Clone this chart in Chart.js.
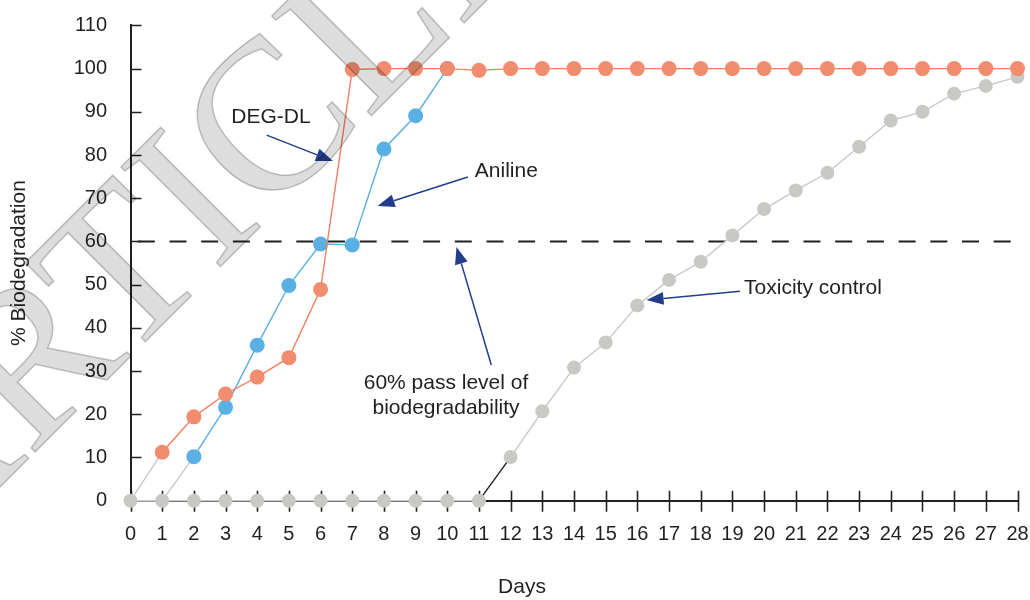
<!DOCTYPE html>
<html>
<head>
<meta charset="utf-8">
<title>Biodegradation over 28 days</title>
<script src="https://cdn.jsdelivr.net/npm/chart.js@4.4.1/dist/chart.umd.min.js"></script>
<style>
  html, body { margin: 0; padding: 0; background: #ffffff; }
  #wrap { width: 1030px; height: 600px; position: relative; }
</style>
</head>
<body>
<div id="wrap"><canvas id="chart"></canvas></div>
<script>
// ---- data -------------------------------------------------------------
const days = [0, 1, 2, 3, 4, 5, 6, 7, 8, 9, 10, 11, 12, 13, 14, 15, 16, 17, 18, 19, 20, 21, 22, 23, 24, 25, 26, 27, 28];

// % biodegradation per day
const degDL = [0, 11.2, 19.4, 24.7, 28.6, 33.1, 48.9, 99.8, 100, 100, 100, 99.6, 100, 100, 100, 100, 100, 100, 100, 100, 100, 100, 100, 100, 100, 100, 100, 100, 100];
const aniline = [0, 0, 10.2, 21.6, 36.0, 49.8, 59.4, 59.2, 81.4, 89.1, 100];
const toxicityControl = [0, 0, 0, 0, 0, 0, 0, 0, 0, 0, 0, 0, 10.1, 20.7, 30.8, 36.6, 45.2, 51.1, 55.3, 61.4, 67.5, 71.8, 75.9, 81.9, 88.0, 90.0, 94.2, 96.0, 98.1];

// 60 % pass level, drawn across the whole test period
const passLevelDays = [0, 28];
const passLevel = [60, 60];

const yMin = 0, yMax = 110, yStep = 10;

// ---- styling ------------------------------------------------------------
const INK = '#231f20';
const NAVY = '#233c8c';
const ORANGE_LINE = '#f07f5f', ORANGE_DOT = '#f28c6e';
const BLUE_LINE = '#5aafe0', BLUE_DOT = '#5ab0e2';
const GREY_LINE = '#c8c8c8', GREY_DOT = '#c8c8c4';
const FONT = "'Liberation Sans', Arial, Helvetica, sans-serif";

Chart.defaults.font.family = FONT;
Chart.defaults.color = INK;

const toPoints = (xs, ys) => ys.map((v, i) => ({ x: xs[i], y: v }));
const hideZero = ctx => (ctx.raw && ctx.raw.y === 0 ? 0 : 7.5);

// annotation callouts, placed in data units (day, %)
const callouts = [
  { lines: ['DEG-DL'], at: [4.435, 88.7], align: 'center', from: [4.30, 84.6], to: [6.39, 78.6] },
  { lines: ['Aniline'], at: [10.87, 76.2], align: 'left', from: [10.65, 74.9], to: [7.80, 68.2] },
  { lines: ['60% pass level of', 'biodegradability'], at: [9.96, 27.2], align: 'center', from: [11.39, 31.4], to: [10.29, 58.7] },
  { lines: ['Toxicity control'], at: [19.37, 49.2], align: 'left', from: [19.24, 48.5], to: [16.29, 46.45] }
];

// tick marks: x ticks cross the axis, y ticks point into the plot
const tickMarks = {
  id: 'tickMarks',
  beforeDatasetsDraw(chart) {
    const { ctx, scales: { x, y }, chartArea } = chart;
    ctx.save();
    ctx.strokeStyle = INK;
    ctx.lineWidth = 1.6;
    ctx.beginPath();
    x.ticks.forEach(t => {
      const px = Math.round(x.getPixelForValue(t.value)) + 0.5;
      ctx.moveTo(px, chartArea.bottom - 10);
      ctx.lineTo(px, chartArea.bottom + 11);
    });
    y.ticks.forEach(t => {
      if (t.value === 0) return;
      const py = Math.round(y.getPixelForValue(t.value)) + 0.5;
      ctx.moveTo(chartArea.left, py);
      ctx.lineTo(chartArea.left + 11, py);
    });
    ctx.stroke();
    ctx.restore();
  }
};

function arrow(ctx, x1, y1, x2, y2) {
  const ang = Math.atan2(y2 - y1, x2 - x1);
  const len = 17, half = 6.5;
  const bx = x2 - len * Math.cos(ang), by = y2 - len * Math.sin(ang);
  ctx.beginPath();
  ctx.moveTo(x1, y1);
  ctx.lineTo(bx, by);
  ctx.stroke();
  ctx.beginPath();
  ctx.moveTo(x2, y2);
  ctx.lineTo(bx + half * Math.sin(ang), by - half * Math.cos(ang));
  ctx.lineTo(bx - half * Math.sin(ang), by + half * Math.cos(ang));
  ctx.closePath();
  ctx.fill();
}

const callout = {
  id: 'callout',
  afterDatasetsDraw(chart) {
    const { ctx, scales: { x, y } } = chart;
    ctx.save();
    ctx.strokeStyle = NAVY;
    ctx.fillStyle = NAVY;
    ctx.lineWidth = 1.5;
    callouts.forEach(c => {
      arrow(ctx, x.getPixelForValue(c.from[0]), y.getPixelForValue(c.from[1]),
                 x.getPixelForValue(c.to[0]), y.getPixelForValue(c.to[1]));
    });
    ctx.fillStyle = INK;
    ctx.font = '21px ' + FONT;
    ctx.textBaseline = 'middle';
    callouts.forEach(c => {
      ctx.textAlign = c.align;
      const px = x.getPixelForValue(c.at[0]);
      const py = y.getPixelForValue(c.at[1]);
      c.lines.forEach((s, i) => ctx.fillText(s, px, py + i * 25));
    });
    ctx.restore();
  }
};

// faint diagonal "ARTICLE IN PRESS" stamp across the upper left
const stamp = {
  id: 'stamp',
  afterDraw(chart) {
    const { ctx } = chart;
    ctx.save();
    ctx.globalCompositeOperation = 'multiply';
    ctx.translate(-80, 567);
    ctx.rotate(-Math.PI / 4);
    ctx.font = "215px 'Liberation Serif', 'DejaVu Serif', serif";
    ctx.textBaseline = 'alphabetic';
    ctx.fillStyle = '#dddddd';
    ctx.fillText('ARTICLE IN PRESS', 0, 0);
    ctx.strokeStyle = '#c9c9c9';
    ctx.lineWidth = 1.5;
    ctx.strokeText('ARTICLE IN PRESS', 0, 0);
    ctx.restore();
  }
};

new Chart(document.getElementById('chart'), {
  type: 'line',
  data: {
    datasets: [
      {
        label: 'DEG-DL',
        data: toPoints(days, degDL),
        borderColor: ORANGE_LINE,
        borderWidth: 1.4,
        pointBackgroundColor: ORANGE_DOT,
        pointBorderWidth: 0,
        pointRadius: hideZero,
        pointHoverRadius: hideZero,
        segment: { borderColor: s => (s.p0.parsed.y === 0 ? GREY_LINE : undefined) },
        clip: false
      },
      {
        label: 'Aniline',
        data: toPoints(days, aniline),
        borderColor: BLUE_LINE,
        borderWidth: 1.4,
        pointBackgroundColor: BLUE_DOT,
        pointBorderWidth: 0,
        pointRadius: hideZero,
        pointHoverRadius: hideZero,
        segment: { borderColor: s => (s.p0.parsed.y === 0 ? GREY_LINE : undefined) },
        clip: false
      },
      {
        label: 'Toxicity control',
        data: toPoints(days, toxicityControl),
        borderColor: GREY_LINE,
        borderWidth: 1.4,
        pointBackgroundColor: GREY_DOT,
        pointBorderWidth: 0,
        pointRadius: 7,
        pointHoverRadius: 7,
        segment: { borderColor: s => (s.p0.parsed.y === 0 && s.p1.parsed.y > 0 ? INK : undefined) },
        clip: false
      },
      {
        label: '60% pass level',
        data: toPoints(passLevelDays, passLevel),
        borderColor: INK,
        borderWidth: 2,
        borderDash: [17, 14.7],
        borderDashOffset: 24.4,
        pointRadius: 0,
        pointHoverRadius: 0,
        clip: false
      }
    ]
  },
  options: {
    responsive: true,
    maintainAspectRatio: false,
    animation: false,
    devicePixelRatio: 1,
    events: [],
    layout: { padding: { left: 14, right: 0, top: 25.4, bottom: 0 } },
    plugins: {
      legend: { display: false },
      tooltip: { enabled: false },
      title: {
        display: true,
        text: 'Days',
        position: 'bottom',
        color: INK,
        font: { size: 21, weight: 'normal', lineHeight: 1.2 },
        padding: { top: 0, bottom: 0 }
      }
    },
    scales: {
      x: {
        type: 'linear',
        min: days[0],
        max: days[days.length - 1],
        grid: { display: false, drawTicks: false },
        border: { display: true, color: INK, width: 2 },
        ticks: { stepSize: 1, autoSkip: false, maxRotation: 0, padding: 22, color: INK, font: { size: 20 } },
        afterFit(scale) {
          scale.height = 74.1;
          scale.paddingRight = 12.5;
          scale.paddingLeft = 0;
        }
      },
      y: {
        min: yMin,
        max: yMax,
        grid: { display: false, drawTicks: false },
        border: { display: true, color: INK, width: 2 },
        ticks: { stepSize: yStep, padding: 23.5, color: INK, font: { size: 20 } },
        title: {
          display: true,
          text: '% Biodegradation',
          color: INK,
          font: { size: 21, lineHeight: 1 },
          padding: { top: -5, bottom: 0 }
        },
        afterFit(scale) {
          scale.width = 116.5;
          scale.paddingTop = 0;
          scale.paddingBottom = 0;
        }
      }
    }
  },
  plugins: [tickMarks, callout, stamp]
});
</script>
</body>
</html>
